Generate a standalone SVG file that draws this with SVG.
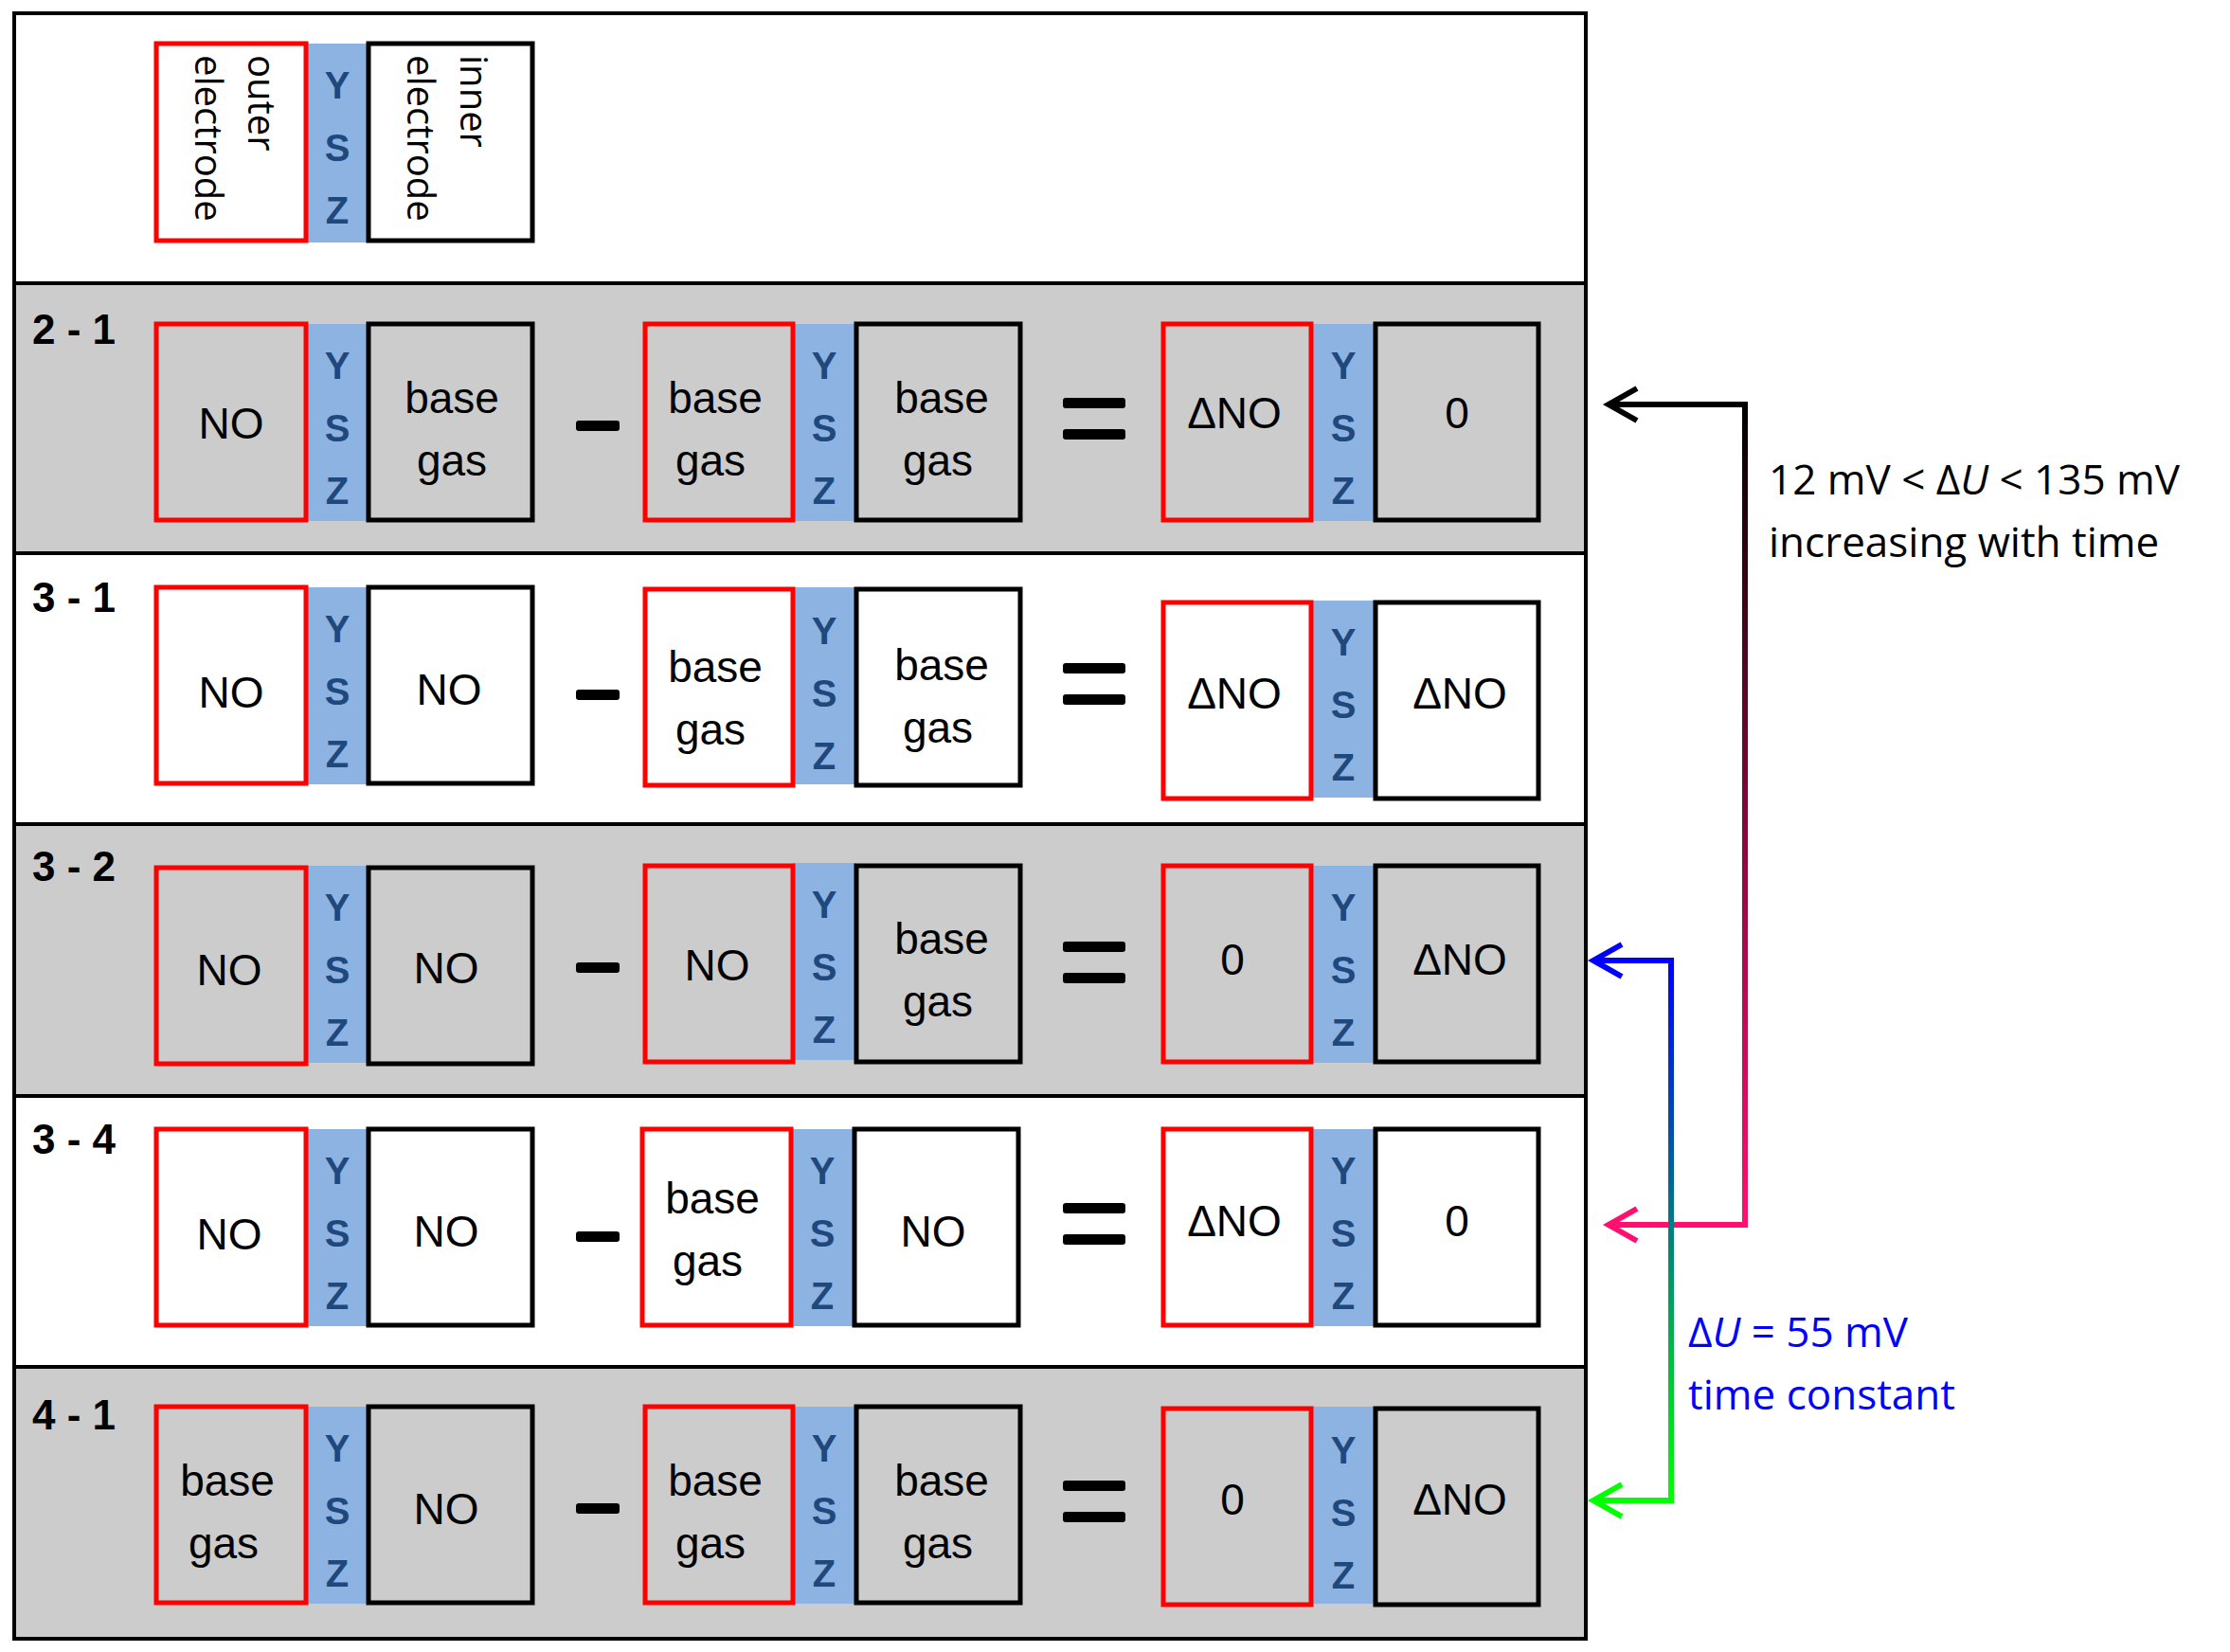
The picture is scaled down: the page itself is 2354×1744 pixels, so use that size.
<svg xmlns="http://www.w3.org/2000/svg" width="2354" height="1744" viewBox="0 0 2354 1744">
<defs>
<linearGradient id="g1" gradientUnits="userSpaceOnUse" x1="0" y1="427" x2="0" y2="1293"><stop offset="0" stop-color="#000"/><stop offset="1" stop-color="#ff1070"/></linearGradient>
<linearGradient id="g2" gradientUnits="userSpaceOnUse" x1="0" y1="1014" x2="0" y2="1584"><stop offset="0" stop-color="#0000ff"/><stop offset="1" stop-color="#00ff00"/></linearGradient>
</defs>
<style>
.o{stroke:#ff0000;stroke-width:5;}
.i{stroke:#000;stroke-width:5;}
.y{fill:#8db3e2;}
.yt{font-family:"Liberation Sans",sans-serif;font-weight:bold;font-size:40px;fill:#1f497d;text-anchor:middle;}
.t{font-family:"Liberation Sans",sans-serif;font-size:46px;fill:#000;text-anchor:middle;}
.lab{font-family:"Liberation Sans",sans-serif;font-weight:bold;font-size:44px;fill:#000;}
.op{fill:#000;}
.a{font-family:"Open Sans",sans-serif;font-size:44px;}
</style>
<rect x="15" y="14" width="1659" height="1716" fill="#fff"/>
<g id="bands">
<rect x="15" y="299" width="1659" height="285" fill="#cccccc"/>
<rect x="15" y="870" width="1659" height="287" fill="#cccccc"/>
<rect x="15" y="1443" width="1659" height="287" fill="#cccccc"/>
<g stroke="#000" stroke-width="4" fill="none">
<rect x="15" y="14" width="1659" height="1716"/>
<line x1="15" y1="299" x2="1674" y2="299"/><line x1="15" y1="584" x2="1674" y2="584"/>
<line x1="15" y1="870" x2="1674" y2="870"/><line x1="15" y1="1157" x2="1674" y2="1157"/>
<line x1="15" y1="1443" x2="1674" y2="1443"/>
</g>
</g>
<g id="legend">
<rect x="323" y="46" width="66" height="210" class="y"/>
<rect x="165" y="46" width="158" height="208" fill="#fff" class="o"/>
<rect x="389" y="46" width="173" height="208" fill="#fff" class="i"/>
<text class="yt" x="356" y="104">Y</text><text class="yt" x="356" y="170">S</text><text class="yt" x="356" y="236">Z</text>
<g font-family="Open Sans,sans-serif" font-size="40" fill="#000">
<text transform="translate(262,58) rotate(90)">outer</text>
<text transform="translate(206,58) rotate(90)">electrode</text>
<text transform="translate(486,58) rotate(90)">inner</text>
<text transform="translate(430,58) rotate(90)">electrode</text>
</g>
</g>
<g id="row21" transform="translate(0,342)">
<text class="lab" x="34" y="21">2 - 1</text>
<rect x="323" y="0" width="66" height="208" class="y"/><rect x="837" y="0" width="67" height="208" class="y"/><rect x="1384" y="0" width="68" height="208" class="y"/>
<rect x="165" y="0" width="158" height="207" fill="none" class="o"/><rect x="389" y="0" width="173" height="207" fill="none" class="i"/>
<rect x="681" y="0" width="156" height="207" fill="none" class="o"/><rect x="904" y="0" width="173" height="207" fill="none" class="i"/>
<rect x="1228" y="0" width="156" height="207" fill="none" class="o"/><rect x="1452" y="0" width="172" height="207" fill="none" class="i"/>
<g class="yt"><text x="356" y="58">Y</text><text x="356" y="124">S</text><text x="356" y="190">Z</text><text x="870" y="58">Y</text><text x="870" y="124">S</text><text x="870" y="190">Z</text><text x="1418" y="58">Y</text><text x="1418" y="124">S</text><text x="1418" y="190">Z</text></g>
<rect x="608" y="102" width="46" height="11" rx="3" class="op"/><rect x="1122" y="78" width="66" height="11" rx="3" class="op"/><rect x="1122" y="111" width="66" height="11" rx="3" class="op"/>
<g class="t"><text x="244" y="121">NO</text><text x="477" y="94">base</text><text x="477" y="160">gas</text><text x="755" y="94">base</text><text x="750" y="160">gas</text><text x="994" y="94">base</text><text x="990" y="160">gas</text><text x="1303" y="110">ΔNO</text><text x="1538" y="110">0</text></g>
</g>
<g id="row31" transform="translate(0,620)">
<text class="lab" x="34" y="26">3 - 1</text>
<rect x="323" y="0" width="66" height="208" class="y"/><rect x="837" y="0" width="67" height="208" class="y"/><rect x="1384" y="14" width="68" height="208" class="y"/>
<rect x="165" y="0" width="158" height="207" fill="none" class="o"/><rect x="389" y="0" width="173" height="207" fill="none" class="i"/>
<rect x="681" y="2" width="156" height="207" fill="none" class="o"/><rect x="904" y="2" width="173" height="207" fill="none" class="i"/>
<rect x="1228" y="16" width="156" height="207" fill="none" class="o"/><rect x="1452" y="16" width="172" height="207" fill="none" class="i"/>
<g class="yt"><text x="356" y="58">Y</text><text x="356" y="124">S</text><text x="356" y="190">Z</text><text x="870" y="60">Y</text><text x="870" y="126">S</text><text x="870" y="192">Z</text><text x="1418" y="72">Y</text><text x="1418" y="138">S</text><text x="1418" y="204">Z</text></g>
<rect x="608" y="108" width="46" height="11" rx="3" class="op"/><rect x="1122" y="80" width="66" height="11" rx="3" class="op"/><rect x="1122" y="113" width="66" height="11" rx="3" class="op"/>
<g class="t"><text x="244" y="127">NO</text><text x="474" y="124">NO</text><text x="755" y="100">base</text><text x="750" y="166">gas</text><text x="994" y="98">base</text><text x="990" y="164">gas</text><text x="1303" y="128">ΔNO</text><text x="1541" y="128">ΔNO</text></g>
</g>
<g id="row32" transform="translate(0,914)">
<text class="lab" x="34" y="16">3 - 2</text>
<rect x="323" y="0" width="66" height="208" class="y"/><rect x="837" y="-3" width="67" height="208" class="y"/><rect x="1384" y="0" width="68" height="208" class="y"/>
<rect x="165" y="2" width="158" height="207" fill="none" class="o"/><rect x="389" y="2" width="173" height="207" fill="none" class="i"/>
<rect x="681" y="0" width="156" height="207" fill="none" class="o"/><rect x="904" y="0" width="173" height="207" fill="none" class="i"/>
<rect x="1228" y="0" width="156" height="207" fill="none" class="o"/><rect x="1452" y="0" width="172" height="207" fill="none" class="i"/>
<g class="yt"><text x="356" y="58">Y</text><text x="356" y="124">S</text><text x="356" y="190">Z</text><text x="870" y="55">Y</text><text x="870" y="121">S</text><text x="870" y="187">Z</text><text x="1418" y="58">Y</text><text x="1418" y="124">S</text><text x="1418" y="190">Z</text></g>
<rect x="608" y="102" width="46" height="11" rx="3" class="op"/><rect x="1122" y="80" width="66" height="11" rx="3" class="op"/><rect x="1122" y="113" width="66" height="11" rx="3" class="op"/>
<g class="t"><text x="242" y="126">NO</text><text x="471" y="124">NO</text><text x="757" y="121">NO</text><text x="994" y="93">base</text><text x="990" y="159">gas</text><text x="1301" y="115">0</text><text x="1541" y="115">ΔNO</text></g>
</g>
<g id="row34" transform="translate(0,1192)">
<text class="lab" x="34" y="26">3 - 4</text>
<rect x="323" y="0" width="66" height="208" class="y"/><rect x="837" y="0" width="67" height="208" class="y"/><rect x="1384" y="0" width="68" height="208" class="y"/>
<rect x="165" y="0" width="158" height="207" fill="none" class="o"/><rect x="389" y="0" width="173" height="207" fill="none" class="i"/>
<rect x="678" y="0" width="157" height="207" fill="none" class="o"/><rect x="902" y="0" width="173" height="207" fill="none" class="i"/>
<rect x="1228" y="0" width="156" height="207" fill="none" class="o"/><rect x="1452" y="0" width="172" height="207" fill="none" class="i"/>
<g class="yt"><text x="356" y="58">Y</text><text x="356" y="124">S</text><text x="356" y="190">Z</text><text x="868" y="58">Y</text><text x="868" y="124">S</text><text x="868" y="190">Z</text><text x="1418" y="58">Y</text><text x="1418" y="124">S</text><text x="1418" y="190">Z</text></g>
<rect x="608" y="108" width="46" height="11" rx="3" class="op"/><rect x="1122" y="78" width="66" height="11" rx="3" class="op"/><rect x="1122" y="111" width="66" height="11" rx="3" class="op"/>
<g class="t"><text x="242" y="127">NO</text><text x="471" y="124">NO</text><text x="752" y="89">base</text><text x="747" y="155">gas</text><text x="985" y="124">NO</text><text x="1303" y="113">ΔNO</text><text x="1538" y="113">0</text></g>
</g>
<g id="row41" transform="translate(0,1485)">
<text class="lab" x="34" y="24">4 - 1</text>
<rect x="323" y="0" width="66" height="208" class="y"/><rect x="837" y="0" width="67" height="208" class="y"/><rect x="1384" y="0" width="68" height="208" class="y"/>
<rect x="165" y="0" width="158" height="207" fill="none" class="o"/><rect x="389" y="0" width="173" height="207" fill="none" class="i"/>
<rect x="681" y="0" width="156" height="207" fill="none" class="o"/><rect x="904" y="0" width="173" height="207" fill="none" class="i"/>
<rect x="1228" y="2" width="156" height="207" fill="none" class="o"/><rect x="1452" y="2" width="172" height="207" fill="none" class="i"/>
<g class="yt"><text x="356" y="58">Y</text><text x="356" y="124">S</text><text x="356" y="190">Z</text><text x="870" y="58">Y</text><text x="870" y="124">S</text><text x="870" y="190">Z</text><text x="1418" y="60">Y</text><text x="1418" y="126">S</text><text x="1418" y="192">Z</text></g>
<rect x="608" y="102" width="46" height="11" rx="3" class="op"/><rect x="1122" y="78" width="66" height="11" rx="3" class="op"/><rect x="1122" y="111" width="66" height="11" rx="3" class="op"/>
<g class="t"><text x="240" y="94">base</text><text x="236" y="160">gas</text><text x="471" y="124">NO</text><text x="755" y="94">base</text><text x="750" y="160">gas</text><text x="994" y="94">base</text><text x="990" y="160">gas</text><text x="1301" y="114">0</text><text x="1541" y="114">ΔNO</text></g>
</g>
<g id="connectors" fill="none" stroke-width="6">
<path d="M1702,427 H1842 V1293 H1702" stroke="url(#g1)"/>
<polyline points="1728,410 1698,427 1728,444" stroke="#000"/>
<polyline points="1728,1276 1698,1293 1728,1310" stroke="#ff1070"/>
<path d="M1686,1014 H1764 V1584 H1686" stroke="url(#g2)"/>
<polyline points="1712,997 1682,1014 1712,1031" stroke="#0000ff"/>
<polyline points="1712,1567 1682,1584 1712,1601" stroke="#00ff00"/>
</g>
<g id="labels">
<text class="a" x="1867" y="522" fill="#000">12 mV &lt; Δ<tspan font-style="italic">U</tspan> &lt; 135 mV</text>
<text class="a" x="1867" y="588" fill="#000">increasing with time</text>
<text class="a" x="1782" y="1422" fill="#0000ff">Δ<tspan font-style="italic">U</tspan> = 55 mV</text>
<text class="a" x="1782" y="1488" fill="#0000ff">time constant</text>
</g>
</svg>
